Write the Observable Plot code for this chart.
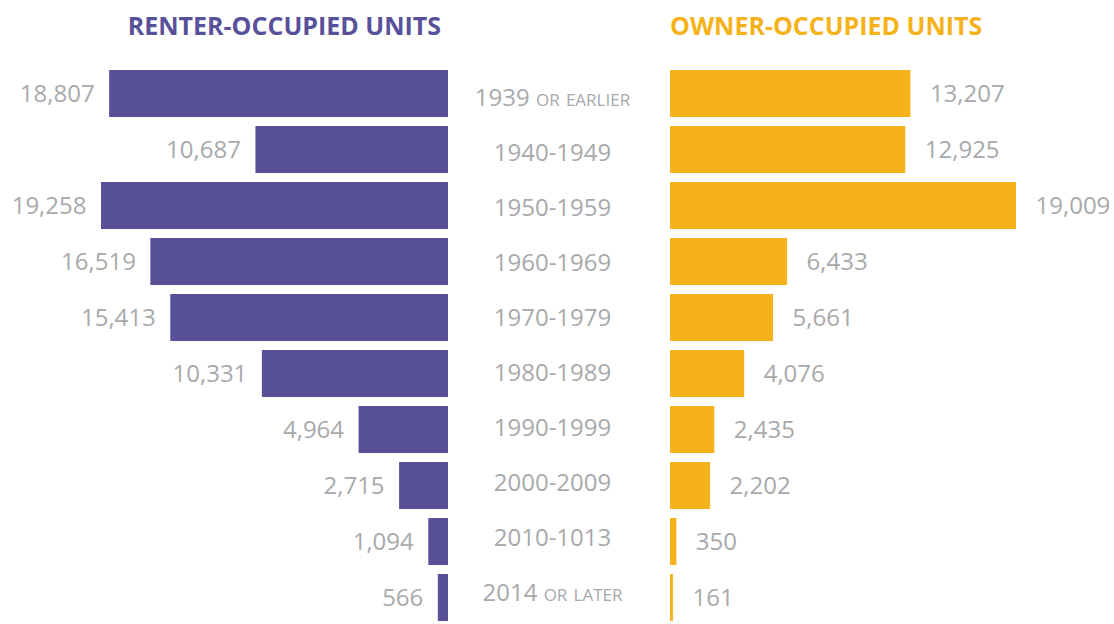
<!DOCTYPE html>
<html><head><meta charset="utf-8">
<script src="https://cdn.jsdelivr.net/npm/d3@7"></script>
<script src="https://cdn.jsdelivr.net/npm/@observablehq/plot@0.6"></script>
<style>
body{margin:0;background:#fff;font-family:"Open Sans",sans-serif;}
#wrap{position:relative;width:1114px;height:624px;overflow:hidden;background:#fff;}
.title{position:absolute;top:13px;font-weight:700;font-size:25px;line-height:1;white-space:nowrap;}
#t1{right:673px;color:#58519a;}
#t2{left:670px;color:#f6b21b;}
.panel{position:absolute;top:60px;}
#mid text{font-variant:small-caps;}
</style></head><body>
<div id="wrap">
<div class="title" id="t1">RENTER-OCCUPIED UNITS</div>
<div class="title" id="t2">OWNER-OCCUPIED UNITS</div>
<div class="panel" id="left" style="left:0px"></div>
<div class="panel" id="mid" style="left:448px"></div>
<div class="panel" id="right" style="left:670px"></div>
</div>
<script>
const periods = ["1939 or earlier","1940-1949","1950-1959","1960-1969","1970-1979","1980-1989","1990-1999","2000-2009","2010-1013","2014 or later"];
const renter = [18807,10687,19258,16519,15413,10331,4964,2715,1094,566];
const owner = [13207,12925,19009,6433,5661,4076,2435,2202,350,161];

const purple = "#58519a", gold = "#f6b21b", gray = "#a7a9ac";
const fmt = d3.format(",");
const rows = periods.map((p, i) => ({period: p, renter: renter[i], owner: owner[i]}));

const common = {
  height: 564, marginTop: 8, marginBottom: 1,
  y: {domain: periods, axis: null, paddingInner: 0.158, paddingOuter: 0},
  style: {fontFamily: "'Open Sans', sans-serif", fontSize: "24px", overflow: "visible", background: "transparent"}
};

const left = Plot.plot({
  ...common, width: 448, marginLeft: 101, marginRight: 0,
  x: {domain: [0, d3.max(renter)], reverse: true, axis: null},
  marks: [
    Plot.barX(rows, {x: "renter", y: "period", fill: purple}),
    Plot.text(rows, {x: "renter", y: "period", text: d => fmt(d.renter), textAnchor: "end", dx: -15, fill: gray, fontSize: 24})
  ]
});

const mid = Plot.plot({
  ...common, width: 222, marginLeft: 0, marginRight: 14,
  marks: [
    Plot.text(rows, {y: "period", text: "period", fill: gray, fontSize: 24})
  ]
});

const right = Plot.plot({
  ...common, width: 444, marginLeft: 0, marginRight: 98,
  x: {domain: [0, d3.max(owner)], axis: null},
  marks: [
    Plot.barX(rows, {x: "owner", y: "period", fill: gold}),
    Plot.text(rows, {x: "owner", y: "period", text: d => fmt(d.owner), textAnchor: "start", dx: 19, fill: gray, fontSize: 24})
  ]
});

document.getElementById("left").appendChild(left);
document.getElementById("mid").appendChild(mid);
document.getElementById("right").appendChild(right);
</script>
</body></html>
